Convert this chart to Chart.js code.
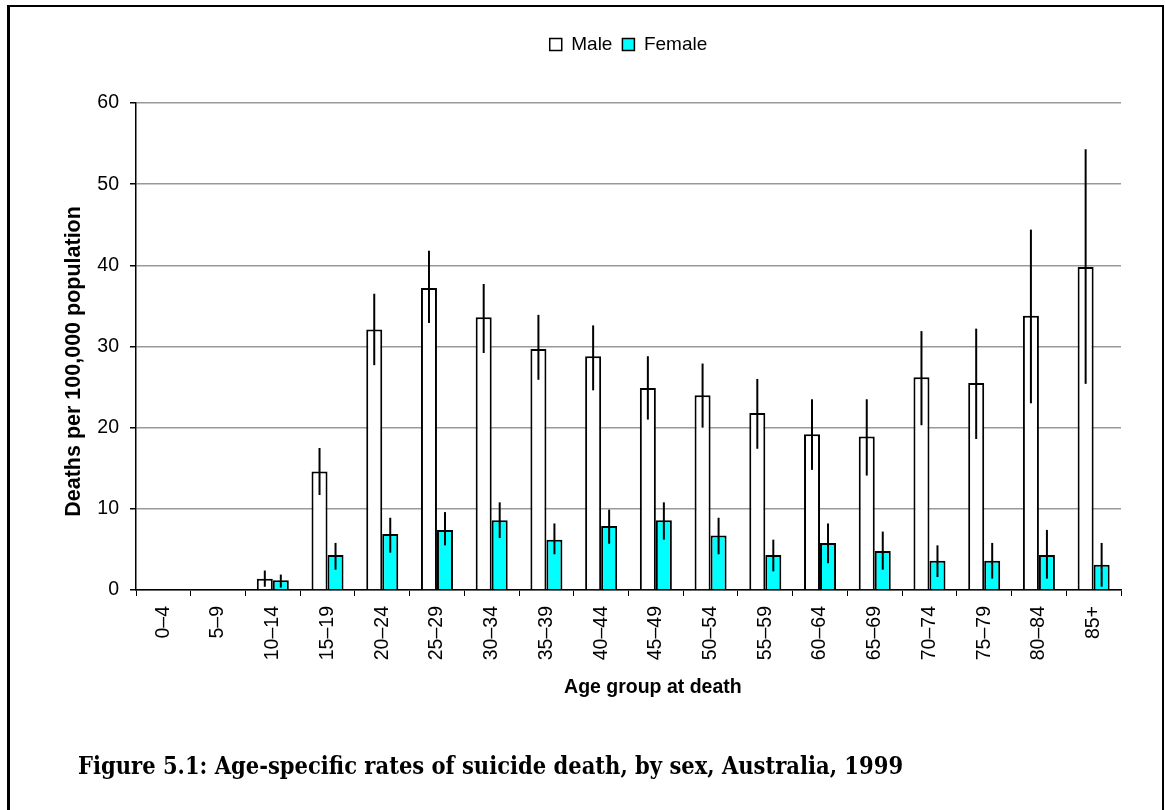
<!DOCTYPE html>
<html>
<head>
<meta charset="utf-8">
<script src="https://cdn.jsdelivr.net/npm/chart.js@4.4.1/dist/chart.umd.min.js"></script>
<style>
  html, body { margin: 0; padding: 0; background: #fff; overflow: hidden; }
  #frame {
    position: absolute; left: 7px; top: 5px; width: 1157px; height: 840px;
    border: 2px solid #000; border-left-width: 3px; box-sizing: border-box;
  }
  #wrap { position: absolute; left: 0; top: 0; width: 1165px; height: 810px; }
  #caption {
    position: absolute; left: 78px; top: 752px; white-space: nowrap;
    font: bold 20px "DejaVu Serif", serif; font-stretch: condensed;
    color: #000; line-height: 1.2;
  }
</style>
</head>
<body>
<div id="frame"></div>
<div id="wrap"><canvas id="myChart"></canvas></div>
<div id="caption">Figure 5.1: Age-specific rates of suicide death, by sex, Australia, 1999</div>
<script>
// ------------- data ------------------------------------
const ageGroups = ["0–4", "5–9", "10–14", "15–19", "20–24", "25–29", "30–34", "35–39", "40–44",
  "45–49", "50–54", "55–59", "60–64", "65–69", "70–74", "75–79", "80–84", "85+"];

const maleRates = [0, 0, 1.4, 14.6, 32.1, 37.2, 33.6, 29.7, 28.8, 24.9, 24.0, 21.8, 19.2, 18.9, 26.2, 25.5, 33.8, 39.8];
const maleLower = [null, null, 0.4, 11.7, 27.7, 32.9, 29.2, 25.9, 24.6, 21.0, 20.0, 17.4, 14.8, 14.1, 20.3, 18.6, 23.0, 25.4];
const maleUpper = [null, null, 2.4, 17.5, 36.5, 41.8, 37.7, 33.9, 32.6, 28.8, 27.9, 26.0, 23.5, 23.5, 31.9, 32.2, 44.4, 54.3];

const femaleRates = [0, 0, 1.2, 4.3, 6.9, 7.4, 8.6, 6.2, 7.9, 8.6, 6.7, 4.3, 5.8, 4.8, 3.6, 3.6, 4.3, 3.1];
const femaleLower = [null, null, 0.3, 2.5, 4.6, 5.5, 6.4, 4.4, 5.7, 6.2, 4.4, 2.3, 3.3, 2.5, 1.6, 1.4, 1.4, 0.4];
const femaleUpper = [null, null, 1.9, 5.8, 8.9, 9.6, 10.8, 8.2, 9.9, 10.8, 8.9, 6.2, 8.2, 7.2, 5.5, 5.8, 7.4, 5.8];

const yMin = 0;
const yMax = 60;
const yStep = 10;

// caption is a wide book face in the original: fit it to the same width
const cap = document.getElementById("caption");
cap.style.fontSize = (20 * 825 / cap.getBoundingClientRect().width).toFixed(2) + "px";

// ------------- plugins ----------------
// push the plot down below the legend
const legendGap = {
  id: "legendGap",
  beforeInit(chart) {
    const fit = chart.legend.fit;
    chart.legend.fit = function () {
      fit.call(this);
      this.height = 78;
    };
  },
  // centre the legend over the plot area rather than the whole canvas
  afterLayout(chart) {
    chart.legend.left = chart.chartArea.left;
    chart.legend.right = chart.chartArea.right;
  },
};

// vertical confidence-interval lines, no caps
const errorBars = {
  id: "errorBars",
  afterDatasetsDraw(chart) {
    const ctx = chart.ctx;
    const y = chart.scales.y;
    ctx.save();
    ctx.strokeStyle = "#000";
    ctx.lineWidth = 2;
    chart.data.datasets.forEach((ds, i) => {
      const meta = chart.getDatasetMeta(i);
      meta.data.forEach((bar, j) => {
        const lo = ds.lower[j];
        const hi = ds.upper[j];
        if (lo == null || hi == null) return;
        ctx.beginPath();
        ctx.moveTo(bar.x, y.getPixelForValue(lo));
        ctx.lineTo(bar.x, y.getPixelForValue(hi));
        ctx.stroke();
      });
    });
    ctx.restore();
  },
};

// ------------- Chart.js implementation ----------------
document.addEventListener("DOMContentLoaded", () => {
  const font = "'Liberation Sans', Arial, sans-serif";
  const nb = "\u00a0";
  const ctx = document.getElementById("myChart");
  new Chart(ctx, {
    type: "bar",
    data: {
      labels: ageGroups,
      datasets: [
        {
          label: "Male",
          data: maleRates,
          lower: maleLower,
          upper: maleUpper,
          backgroundColor: "#ffffff",
          borderColor: "#000000",
          borderWidth: 2,
          borderSkipped: "bottom",
        },
        {
          label: "Female",
          data: femaleRates,
          lower: femaleLower,
          upper: femaleUpper,
          backgroundColor: "#00ffff",
          borderColor: "#000000",
          borderWidth: 2,
          borderSkipped: "bottom",
        },
      ],
    },
    options: {
      responsive: true,
      maintainAspectRatio: false,
      animation: false,
      categoryPercentage: 0.585,
      barPercentage: 1.0,
      layout: { padding: { top: 25, left: 58, right: 44, bottom: 107 } },
      plugins: {
        tooltip: { enabled: false },
        legend: {
          position: "top",
          align: "center",
          labels: {
            boxWidth: 12,
            boxHeight: 12,
            padding: 10,
            color: "#000",
            font: { family: font, size: 19 },
            generateLabels(chart) {
              return chart.data.datasets.map((ds, i) => ({
                text: ds.label,
                fillStyle: ds.backgroundColor,
                strokeStyle: "#000",
                lineWidth: 1.5,
                datasetIndex: i,
              }));
            },
          },
        },
      },
      scales: {
        x: {
          afterFit(scale) { scale.height = 113; },
          grid: {
            display: true,
            drawOnChartArea: false,
            drawTicks: true,
            tickLength: 6,
            tickColor: "#000",
            offset: true,
          },
          border: { display: true, color: "#000", width: 1.5 },
          ticks: {
            color: "#000",
            font: { family: font, size: 19.5 },
            minRotation: 90,
            maxRotation: 90,
            autoSkip: false,
            padding: 10,
          },
          title: {
            display: true,
            // title sits a little right of the plot centre in the original
            text: nb.repeat(9) + "Age group at death",
            color: "#000",
            font: { family: font, size: 19.5, weight: "bold" },
          },
        },
        y: {
          min: yMin,
          max: yMax,
          afterFit(scale) { scale.width = 78; },
          grid: {
            color: "#999",
            lineWidth: 1.5,
            tickColor: "#000",
            tickLength: 6,
          },
          border: { display: true, color: "#000", width: 1.5 },
          ticks: {
            stepSize: yStep,
            color: "#000",
            font: { family: font, size: 19.5 },
            padding: 11,
          },
          title: {
            display: true,
            // and a little below centre on the value axis
            text: "Deaths per 100,000 population" + nb.repeat(5),
            color: "#000",
            font: { family: font, size: 21.5, weight: "bold" },
            padding: { top: 3, bottom: 4 },
          },
        },
      },
    },
    plugins: [legendGap, errorBars],
  });
});
</script>
</body>
</html>
